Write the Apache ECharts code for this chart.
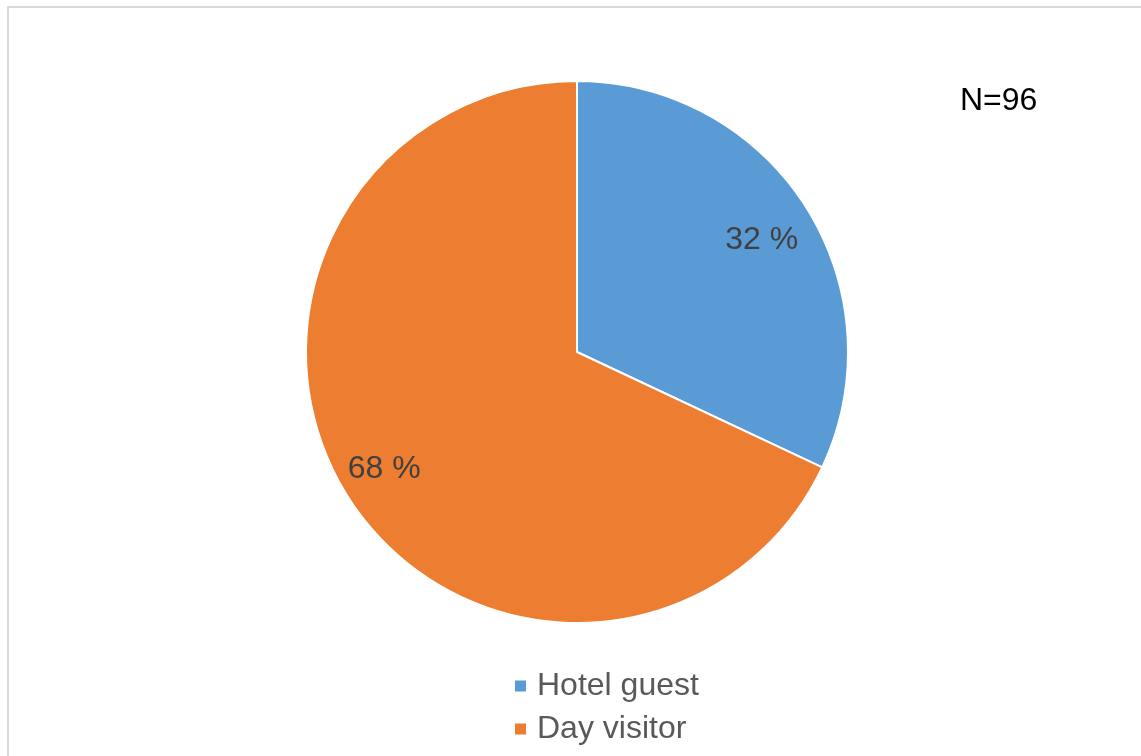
<!DOCTYPE html>
<html>
<head>
<meta charset="utf-8">
<script src="https://cdn.jsdelivr.net/npm/echarts@6/dist/echarts.min.js"></script>
<style>
  html, body { margin: 0; padding: 0; background: #fff; }
  #chart { width: 1141px; height: 756px; }
</style>
</head>
<body>
<div id="chart"></div>
<script>
// Visitor types
const categories = ['Hotel guest', 'Day visitor'];
const shares = [32, 68];
const colors = ['#5B9BD5', '#ED7D31'];
const sampleNote = 'N=96';

const pieData = categories.map((name, i) => ({ name, value: shares[i], itemStyle: { color: colors[i] } }));

// small nudges for the percentage labels
const labelOffsets = [[-1, 6], [-7, -1]];

const chart = echarts.init(document.getElementById('chart'), null, { renderer: 'canvas' });
const font = '"Liberation Sans", Arial, sans-serif';

chart.setOption({
  backgroundColor: '#ffffff',
  animation: false,
  graphic: [
    { type: 'rect', shape: { x: 8, y: 7, width: 1200, height: 800 },
      style: { fill: 'none', stroke: '#d9d9d9', lineWidth: 2 }, silent: true },
    { type: 'text', left: 960, top: 85,
      style: { text: sampleNote, font: '32px ' + font, fill: '#000000' } }
  ],
  legend: {
    orient: 'vertical',
    left: 508,
    top: 664,
    icon: 'rect',
    itemWidth: 13,
    itemHeight: 13,
    itemGap: 9,
    data: categories,
    textStyle: { fontFamily: font, fontSize: 32, color: '#595959', lineHeight: 34, padding: [0, 0, 0, 5] }
  },
  series: [
    {
      type: 'pie',
      center: [577, 352],
      radius: [0, 271],
      startAngle: 90,
      clockwise: true,
      silent: true,
      label: { show: false },
      labelLine: { show: false },
      itemStyle: { borderColor: '#ffffff', borderWidth: 2 },
      data: pieData
    },
    {
      // label ring: percentages placed near the outer part of each slice
      type: 'pie',
      center: [577, 352],
      radius: [163, 271],
      startAngle: 90,
      clockwise: true,
      silent: true,
      legendHoverLink: false,
      itemStyle: { color: 'rgba(0,0,0,0)', borderWidth: 0 },
      label: {
        show: true,
        position: 'inside',
        formatter: p => p.value + ' %',
        fontFamily: font,
        fontSize: 32,
        color: '#404040'
      },
      labelLine: { show: false },
      data: categories.map((name, i) => ({ name, value: shares[i], label: { offset: labelOffsets[i] } }))
    }
  ]
});
</script>
</body>
</html>
